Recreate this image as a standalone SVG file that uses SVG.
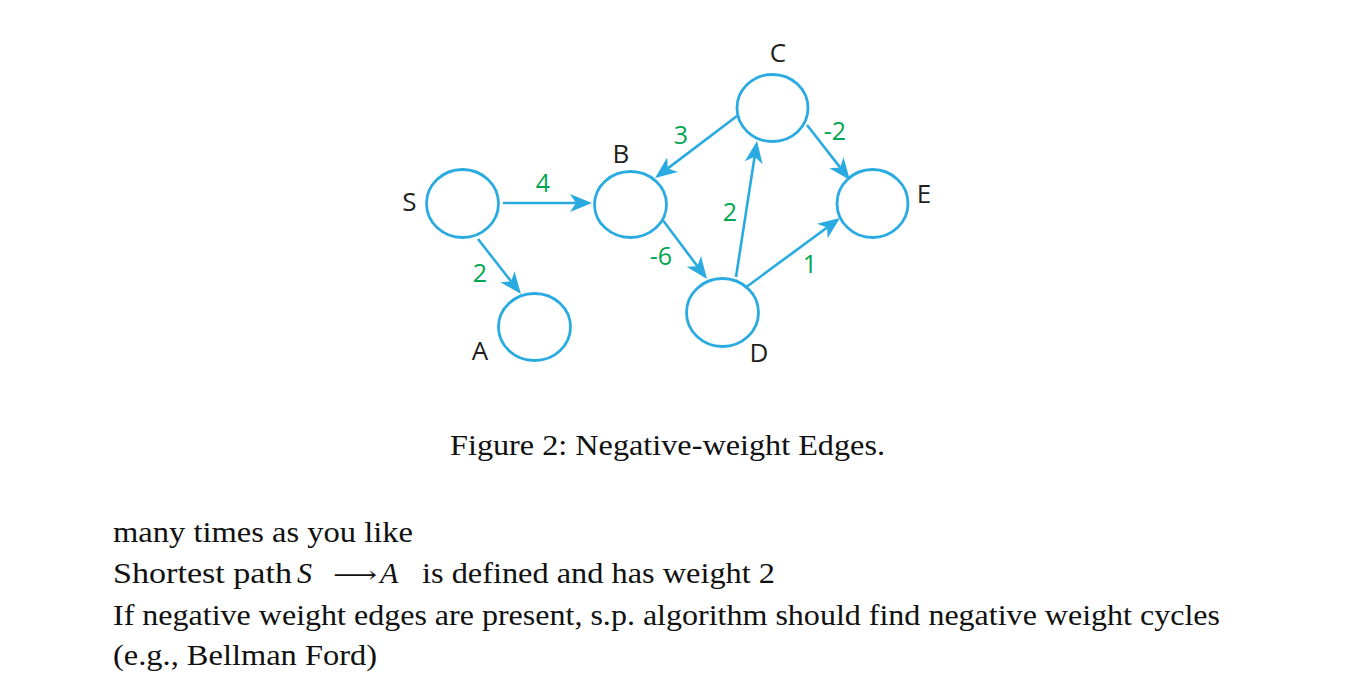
<svg xmlns="http://www.w3.org/2000/svg" width="1352" height="689" viewBox="0 0 1352 689">
<style>
.node{fill:none;stroke:#29abe2;stroke-width:2.8}
.edge{fill:none;stroke:#29abe2;stroke-width:2.6}
.lbl{font-family:"Open Sans","Noto Sans",sans-serif;font-size:26px;fill:#231f20;text-anchor:middle}
.w{font-family:"Open Sans","Noto Sans",sans-serif;font-size:25px;fill:#00a651;text-anchor:middle}
.tx{font-family:"Liberation Serif","DejaVu Serif",serif;font-size:30px;fill:#111}
.it{font-style:italic}
</style>
<defs>
<marker id="ah" viewBox="0 -10 24 20" markerWidth="24" markerHeight="20" refX="6" refY="0" orient="auto" markerUnits="userSpaceOnUse">
<path d="M0,-9 L22,0 L0,9 L6,0 Z" fill="#29abe2"/>
</marker>
</defs>
<rect width="1352" height="689" fill="#fff"/>
<g id="connectors">
<line class="edge" x1="503" y1="203" x2="576" y2="203" marker-end="url(#ah)"/>
<line class="edge" x1="478" y1="239" x2="511.1" y2="281.4" marker-end="url(#ah)"/>
<line class="edge" x1="662.7" y1="220" x2="697.4" y2="266.2" marker-end="url(#ah)"/>
<line class="edge" x1="737" y1="116" x2="667.8" y2="168.4" marker-end="url(#ah)"/>
<line class="edge" x1="807" y1="125" x2="840.1" y2="167.4" marker-end="url(#ah)"/>
<line class="edge" x1="736" y1="277" x2="754.6" y2="156.8" marker-end="url(#ah)"/>
<line class="edge" x1="745" y1="288" x2="827.1" y2="227.5" marker-end="url(#ah)"/>
<text class="w" x="543" y="192">4</text>
<text class="w" x="480" y="282">2</text>
<text class="w" x="661" y="265">-6</text>
<text class="w" x="681" y="144">3</text>
<text class="w" x="835" y="140">-2</text>
<text class="w" x="730" y="221">2</text>
<text class="w" x="810" y="273">1</text>
</g>
<g id="node-S"><ellipse class="node" cx="462.5" cy="203.5" rx="36" ry="34"/><text class="lbl" x="409.5" y="211">S</text></g>
<g id="node-A"><ellipse class="node" cx="534.5" cy="327" rx="36" ry="33.5"/><text class="lbl" x="480" y="360">A</text></g>
<g id="node-B"><ellipse class="node" cx="630.5" cy="204.5" rx="36" ry="33"/><text class="lbl" x="621" y="163">B</text></g>
<g id="node-C"><ellipse class="node" cx="772.5" cy="108" rx="35.5" ry="33.5"/><text class="lbl" x="778" y="62">C</text></g>
<g id="node-D"><ellipse class="node" cx="722.5" cy="312.5" rx="36" ry="34"/><text class="lbl" x="759" y="362">D</text></g>
<g id="node-E"><ellipse class="node" cx="872.5" cy="203.5" rx="35.5" ry="34"/><text class="lbl" x="924" y="203">E</text></g>
<g id="caption">
<text class="tx" x="450" y="455" textLength="435" lengthAdjust="spacingAndGlyphs">Figure 2: Negative-weight Edges.</text>
</g>
<g id="body">
<text class="tx" x="113" y="542" textLength="300" lengthAdjust="spacingAndGlyphs">many times as you like</text>
<text class="tx" x="113" y="583" textLength="179" lengthAdjust="spacingAndGlyphs">Shortest path</text>
<text class="tx it" x="297" y="583">S</text>
<text class="tx" x="333" y="583" textLength="44" lengthAdjust="spacingAndGlyphs" style="font-family:'DejaVu Serif','DejaVu Sans',serif;font-size:24px">⟶</text>
<text class="tx it" x="380" y="583">A</text>
<text class="tx" x="422" y="583" textLength="353" lengthAdjust="spacingAndGlyphs">is defined and has weight 2</text>
<text class="tx" x="113" y="625" textLength="1107" lengthAdjust="spacingAndGlyphs">If negative weight edges are present, s.p. algorithm should find negative weight cycles</text>
<text class="tx" x="113" y="665" textLength="264" lengthAdjust="spacingAndGlyphs">(e.g., Bellman Ford)</text>
</g>
</svg>
